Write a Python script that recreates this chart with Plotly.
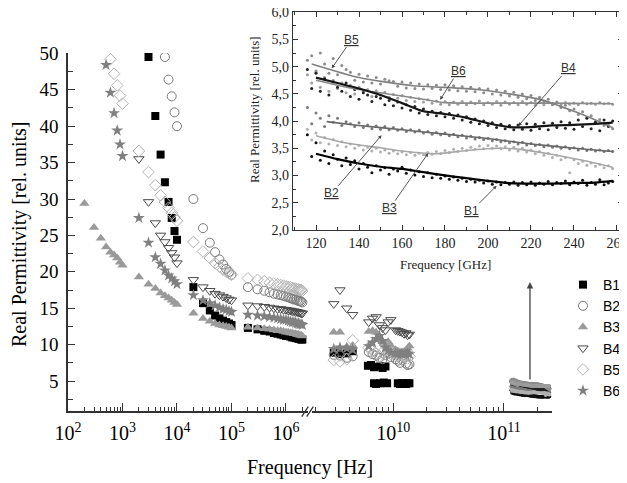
import plotly.graph_objects as go

W, H = 627, 483
OX, OY = 8, 8  # page body margin of the browser


def fx(px):
    return (px - OX) / W


def fy(py):
    return 1 - (py - OY) / H


# ------------------------------------------------------------------ data
SERIES = ["B1", "B2", "B3", "B4", "B5", "B6"]

# common frequency grids (Hz)
F_MID = [2e4, 3e4, 4e4, 5e4, 6e4, 7e4, 8e4, 9e4, 1e5]
F_HI = [2e5, 3e5, 4e5, 5e5, 6e5, 7e5, 8e5, 9e5, 1e6, 1.1e6, 1.2e6, 1.3e6,
        1.4e6, 1.5e6, 1.6e6, 1.7e6, 1.8e6, 1.9e6, 2e6]

# low-frequency parts
b1_low_f = [3e3, 4e3, 5e3, 6e3, 7e3, 8e3, 9e3, 1e4]
b1_low = [49.5, 41.4, 36.1, 32.3, 29.6, 27.4, 25.6, 24.4]
b2_low_f = [6e3, 7e3, 8e3, 9e3, 1e4]
b2_low = [49.5, 46.4, 44.1, 41.9, 40.0]
b3_low_f = [200, 300, 400, 500, 600, 700, 800, 900, 1000,
            2e3, 3e3, 4e3, 5e3, 6e3, 7e3, 8e3, 9e3, 1e4]
b3_low = [29.4, 26.1, 24.6, 23.4, 22.7, 22.3, 21.9, 21.3, 20.9,
          19.3, 18.3, 17.7, 17.1, 16.7, 16.4, 16.1, 15.8, 15.5]
b4_low_f = [2e3, 3e3, 4e3, 5e3, 6e3, 7e3, 8e3, 9e3, 1e4]
b4_low = [35.5, 29.6, 26.7, 25.0, 24.1, 23.3, 22.6, 22.0, 21.2]
b5_low_f = [600, 700, 800, 900, 1000, 2e3, 3e3, 4e3, 5e3, 6e3, 7e3, 8e3, 9e3, 1e4]
b5_low = [49.2, 47.2, 45.6, 44.2, 43.1, 36.6, 33.7, 31.9, 30.5, 29.6, 28.8, 28.1, 27.5, 27.0]
b6_low_f = [500, 600, 700, 800, 900, 1000, 2e3, 3e3, 4e3, 5e3, 6e3, 7e3, 8e3, 9e3, 1e4]
b6_low = [48.4, 44.6, 41.8, 39.4, 37.5, 35.9, 27.4, 24.0, 22.0, 21.1, 20.2, 19.5, 19.1, 18.7, 18.3]

# 20 kHz - 100 kHz
b1_mid = [17.9, 15.7, 14.7, 14.0, 13.6, 13.3, 13.1, 12.9, 12.7]
b2_mid = [30.0, 26.0, 24.0, 22.7, 21.7, 21.0, 20.4, 20.0, 19.6]
b3_mid = [14.3, 13.6, 13.2, 12.9, 12.7, 12.6, 12.5, 12.4, 12.3]
b4_mid = [18.9, 17.9, 17.4, 17.0, 16.8, 16.6, 16.4, 16.2, 16.1]
b5_mid = [24.1, 22.8, 21.9, 21.2, 20.7, 20.3, 20.0, 19.8, 19.6]
b6_mid = [16.8, 16.1, 15.7, 15.4, 15.1, 14.9, 14.8, 14.6, 14.5]

# 200 kHz - 2 MHz
b1_hi = [12.3, 12.1, 11.9, 11.8, 11.6, 11.5, 11.4, 11.3, 11.2, 11.2, 11.1, 11.0, 11.0, 10.9, 10.9, 10.8, 10.8, 10.7, 10.7]
b2_hi = [17.9, 17.6, 17.4, 17.2, 17.0, 16.9, 16.8, 16.7, 16.6, 16.5, 16.4, 16.3, 16.2, 16.2, 16.1, 16.0, 16.0, 15.9, 15.8]
b3_hi = [12.4, 12.3, 12.2, 12.1, 12.0, 11.9, 11.9, 11.8, 11.7, 11.7, 11.6, 11.6, 11.5, 11.5, 11.4, 11.4, 11.3, 11.3, 11.2]
b4_hi = [15.4, 15.3, 15.2, 15.1, 15.0, 14.9, 14.9, 14.8, 14.8, 14.7, 14.7, 14.6, 14.6, 14.5, 14.5, 14.4, 14.4, 14.3, 14.3]
b5_hi = [19.1, 18.9, 18.7, 18.5, 18.4, 18.3, 18.2, 18.1, 18.0, 17.9, 17.9, 17.8, 17.7, 17.7, 17.6, 17.6, 17.5, 17.5, 17.4]
b6_hi = [14.1, 14.0, 13.9, 13.8, 13.7, 13.6, 13.5, 13.4, 13.4, 13.3, 13.2, 13.1, 13.1, 13.0, 12.9, 12.9, 12.8, 12.8, 12.7]

# GHz region (Hz)
G1 = [2.9e9, 3.3e9, 3.8e9, 4.3e9]
G2 = [6.0e9, 6.5e9, 7.0e9, 7.5e9, 8.0e9, 8.5e9, 9.0e9, 9.5e9,
      10.5e9, 11.0e9, 11.5e9, 12.0e9, 12.5e9, 13.0e9, 13.5e9, 14.0e9]
b1_ghz_f = [2.9e9, 3.3e9, 3.8e9, 4.3e9, 5.9e9, 6.3e9, 6.7e9, 7.5e9, 8.0e9, 8.5e9,
            6.7e9, 7.0e9, 7.6e9, 8.2e9, 8.8e9, 11.0e9, 11.5e9, 12.0e9, 12.5e9, 13.0e9, 13.5e9, 14.0e9]
b1_ghz = [8.9, 8.7, 8.8, 9.1, 7.1, 7.2, 6.9, 7.0, 6.8, 7.0,
          4.7, 4.6, 4.7, 4.8, 4.7, 4.7, 4.6, 4.7, 4.7, 4.6, 4.7, 4.7]
b2_ghz = [8.6, 8.5, 8.2, 8.4, 9.0, 8.7, 8.5, 8.2, 8.0, 8.6, 8.8, 8.3, 8.0, 7.8, 7.5, 7.9, 8.2, 7.4, 7.2, 7.3]
b3_ghz = [11.7, 11.7, 9.7, 9.9, 11.8, 11.9, 11.7, 11.0, 10.4, 10.0, 10.4, 9.9, 9.3, 9.1, 8.9, 9.0, 8.9, 9.2, 9.5, 9.8]
b4_ghz = [15.6, 17.5, 15.0, 14.1, 13.1, 13.6, 13.8, 12.7, 12.3, 12.0, 13.1, 13.4, 12.0, 11.9, 11.8, 11.7, 11.5, 11.6, 11.3, 11.4]
b5_ghz = [7.9, 7.7, 8.0, 10.6, 9.6, 9.2, 8.8, 8.4, 9.0, 9.8, 9.1, 8.7, 8.4, 8.6, 8.2, 8.0, 8.5, 8.3, 8.1, 8.4]
b6_ghz = [9.4, 9.6, 9.5, 9.3, 9.8, 10.3, 10.8, 11.2, 10.5, 9.6, 9.2, 8.9, 8.8, 8.7, 8.8, 8.7, 8.8, 8.7, 8.8, 8.7]

# inset: 116 - 258 GHz measured points
GHZ_X = [116, 118, 120, 122, 124, 126, 128, 130, 132, 134,
         136, 138, 140, 142, 144, 146, 148, 150, 152, 154,
         156, 158, 160, 162, 164, 166, 168, 170, 172, 174,
         176, 178, 180, 182, 184, 186, 188, 190, 192, 194,
         196, 198, 200, 202, 204, 206, 208, 210, 212, 214,
         216, 218, 220, 222, 224, 226, 228, 230, 232, 234,
         236, 238, 240, 242, 244, 246, 248, 250, 252, 254,
         256, 258]
b1_dots = [3.75, 3.35, 3.60, 3.28, 3.45, 3.22, 3.38, 3.30, 3.18, 3.32,
           3.20, 3.27, 3.12, 3.22, 3.15, 3.05, 3.18, 3.10, 3.14, 3.02,
           3.12, 3.08, 3.15, 3.04, 3.10, 3.01, 3.07, 2.98, 3.05, 2.96,
           3.02, 2.95, 2.99, 2.93, 2.97, 2.91, 2.95, 2.89, 2.93, 2.88,
           2.91, 2.86, 2.90, 2.84, 2.88, 2.83, 2.87, 2.84, 2.88, 2.82,
           2.87, 2.83, 2.88, 2.82, 2.86, 2.84, 2.89, 2.83, 2.87, 2.85,
           2.90, 2.83, 2.88, 2.85, 2.91, 2.82, 2.87, 2.84, 2.92, 2.83,
           2.86, 2.89]
b2_dots = [4.25, 3.95, 4.15, 4.05, 3.90, 4.10, 3.98, 4.05, 3.92, 3.99,
           3.95, 3.90, 3.97, 3.88, 3.93, 3.86, 3.91, 3.85, 3.90, 3.84,
           3.88, 3.83, 3.86, 3.81, 3.84, 3.80, 3.83, 3.78, 3.81, 3.76,
           3.79, 3.75, 3.78, 3.73, 3.76, 3.71, 3.74, 3.69, 3.72, 3.67,
           3.70, 3.66, 3.68, 3.64, 3.66, 3.62, 3.64, 3.60, 3.62, 3.58,
           3.61, 3.56, 3.59, 3.55, 3.57, 3.53, 3.56, 3.52, 3.54, 3.50,
           3.53, 3.49, 3.51, 3.47, 3.50, 3.46, 3.48, 3.45, 3.47, 3.44,
           3.46, 3.44]
b3_dots = [3.85, 3.65, 3.78, 3.60, 3.70, 3.58, 3.66, 3.55, 3.62, 3.53,
           3.58, 3.50, 3.55, 3.47, 3.52, 3.45, 3.50, 3.43, 3.47, 3.41,
           3.45, 3.40, 3.43, 3.38, 3.42, 3.37, 3.41, 3.38, 3.42, 3.39,
           3.44, 3.40, 3.46, 3.42, 3.48, 3.44, 3.50, 3.46, 3.52, 3.48,
           3.54, 3.49, 3.55, 3.50, 3.54, 3.49, 3.53, 3.47, 3.52, 3.45,
           3.50, 3.43, 3.47, 3.40, 3.44, 3.37, 3.41, 3.33, 3.37, 3.29,
           3.33, 3.05, 3.29, 3.22, 3.26, 3.19, 3.23, 3.17, 3.20, 3.14,
           3.18, 3.13]
b4_dots = [4.95, 4.60, 4.88, 4.55, 4.78, 4.48, 4.72, 4.62, 4.55, 4.70,
           4.45, 4.58, 4.40, 4.52, 4.48, 4.36, 4.45, 4.42, 4.30, 4.38,
           4.28, 4.35, 4.24, 4.30, 4.20, 4.27, 4.15, 4.22, 4.12, 4.18,
           4.10, 4.16, 4.08, 4.14, 4.05, 4.11, 4.02, 4.08, 3.98, 4.04,
           3.95, 4.00, 3.92, 3.97, 3.88, 3.94, 3.86, 3.92, 3.84, 3.93,
           3.85, 3.95, 3.83, 3.94, 3.86, 3.97, 3.84, 3.96, 3.88, 3.99,
           3.87, 3.97, 3.85, 4.02, 3.90, 4.05, 3.86, 3.98, 3.82, 4.02,
           3.90, 4.00]
b5_dots = [5.12, 5.20, 4.92, 5.25, 5.05, 4.88, 5.15, 4.85, 5.02, 4.95,
           4.90, 4.75, 4.86, 4.72, 4.83, 4.70, 4.80, 4.68, 4.77, 4.74,
           4.73, 4.64, 4.72, 4.61, 4.70, 4.60, 4.68, 4.59, 4.67, 4.60,
           4.66, 4.58, 4.67, 4.57, 4.65, 4.56, 4.63, 4.55, 4.62, 4.54,
           4.60, 4.52, 4.59, 4.50, 4.57, 4.48, 4.55, 4.46, 4.53, 4.44,
           4.50, 4.41, 4.47, 4.38, 4.44, 4.35, 4.40, 4.30, 4.34, 4.25,
           4.29, 4.19, 4.22, 4.12, 4.17, 4.06, 4.10, 3.99, 4.03, 3.92,
           3.95, 3.86]
b6_dots = [4.85, 4.70, 4.90, 4.62, 4.80, 4.55, 4.75, 4.60, 4.70, 4.52,
           4.66, 4.50, 4.62, 4.55, 4.58, 4.45, 4.56, 4.48, 4.53, 4.44,
           4.49, 4.42, 4.47, 4.38, 4.44, 4.36, 4.41, 4.35, 4.39, 4.33,
           4.37, 4.31, 4.36, 4.30, 4.35, 4.31, 4.36, 4.30, 4.35, 4.32,
           4.37, 4.30, 4.34, 4.31, 4.36, 4.29, 4.35, 4.31, 4.34, 4.30,
           4.36, 4.31, 4.34, 4.29, 4.35, 4.30, 4.34, 4.32, 4.35, 4.30,
           4.34, 4.31, 4.33, 4.30, 4.34, 4.32, 4.33, 4.31, 4.34, 4.32,
           4.33, 4.31]

# inset fitted curves
b1_fit_x = [120, 130, 140, 150, 160, 170, 180, 190, 200, 210, 220, 230, 240, 250, 258]
b1_fit = [3.40, 3.30, 3.22, 3.16, 3.12, 3.06, 3.00, 2.95, 2.90, 2.86, 2.85, 2.85, 2.86, 2.87, 2.90]
b2_fit_x = [125, 140, 160, 180, 200, 220, 240, 258]
b2_fit = [3.99, 3.92, 3.84, 3.76, 3.68, 3.58, 3.50, 3.44]
b3_fit_x = [120, 130, 140, 150, 160, 176, 190, 205, 215, 225, 235, 245, 258]
b3_fit = [3.73, 3.63, 3.56, 3.51, 3.45, 3.40, 3.46, 3.50, 3.48, 3.42, 3.35, 3.27, 3.15]
b4_fit_x = [120, 130, 140, 150, 160, 170, 180, 190, 200, 210, 220, 230, 240, 250, 258]
b4_fit = [4.80, 4.70, 4.60, 4.48, 4.33, 4.18, 4.13, 4.06, 3.96, 3.89, 3.89, 3.92, 3.93, 3.95, 3.97]
b5_fit_x = [118, 140, 165, 180, 195, 210, 225, 240, 250, 258]
b5_fit = [5.05, 4.80, 4.65, 4.62, 4.58, 4.50, 4.39, 4.18, 4.02, 3.88]
b6_fit_x = [120, 130, 140, 150, 160, 170, 180, 200, 230, 258]
b6_fit = [4.75, 4.66, 4.58, 4.52, 4.46, 4.40, 4.34, 4.33, 4.33, 4.32]

# inset labels: (label, text x, text y, head x, head y)
INSET_LABELS = [
    ("B5", 136.6, 5.50, 127.3, 4.97),
    ("B6", 186.2, 4.92, 177.7, 4.39),
    ("B4", 237.3, 4.97, 214.1, 3.91),
    ("B2", 127.3, 2.67, 150.5, 3.74),
    ("B3", 154.4, 2.40, 172.2, 3.41),
    ("B1", 192.4, 2.35, 204.0, 2.81),
]

# ------------------------------------------------------------------ styles
STYLE = {
    "B1": dict(symbol="square", color="#000000", size=8, lw=0),
    "B2": dict(symbol="circle-open", color="#7a7a7a", size=9, lw=1),
    "B3": dict(symbol="triangle-up", color="#9a9a9a", size=9, lw=0),
    "B4": dict(symbol="triangle-down-open", color="#4a4a4a", size=9, lw=1),
    "B5": dict(symbol="diamond-open", color="#b3b3b3", size=9, lw=1),
    "B6": dict(symbol="star", color="#808080", size=9, lw=0),
}
DOT_COLOR = {"B1": "#111111", "B2": "#7a7a7a", "B3": "#b0b0b0",
             "B4": "#222222", "B5": "#8c8c8c", "B6": "#9c9c9c"}
FIT_STYLE = {"B1": ("#000000", 2.2), "B2": ("#666666", 1.6), "B3": ("#a8a8a8", 1.6),
             "B4": ("#151515", 2.2), "B5": ("#808080", 1.6), "B6": ("#8a8a8a", 1.6)}

LOW = {"B1": (b1_low_f, b1_low), "B2": (b2_low_f, b2_low), "B3": (b3_low_f, b3_low),
       "B4": (b4_low_f, b4_low), "B5": (b5_low_f, b5_low), "B6": (b6_low_f, b6_low)}
MID = {"B1": b1_mid, "B2": b2_mid, "B3": b3_mid, "B4": b4_mid, "B5": b5_mid, "B6": b6_mid}
HI = {"B1": b1_hi, "B2": b2_hi, "B3": b3_hi, "B4": b4_hi, "B5": b5_hi, "B6": b6_hi}
GHZ = {"B1": (b1_ghz_f, b1_ghz), "B2": (G1 + G2, b2_ghz), "B3": (G1 + G2, b3_ghz),
       "B4": (G1 + G2, b4_ghz), "B5": (G1 + G2, b5_ghz), "B6": (G1 + G2, b6_ghz)}
DOTS = {"B1": b1_dots, "B2": b2_dots, "B3": b3_dots, "B4": b4_dots, "B5": b5_dots, "B6": b6_dots}
FITS = {"B1": (b1_fit_x, b1_fit), "B2": (b2_fit_x, b2_fit), "B3": (b3_fit_x, b3_fit),
        "B4": (b4_fit_x, b4_fit), "B5": (b5_fit_x, b5_fit), "B6": (b6_fit_x, b6_fit)}


def mk(s, size=None):
    st = STYLE[s]
    return dict(symbol=st["symbol"], color=st["color"], size=size or st["size"],
                line=dict(color=st["color"], width=st["lw"]))


fig = go.Figure()

# main plot, low-frequency segment
for s in SERIES:
    lf, lv = LOW[s]
    fig.add_trace(go.Scatter(x=lf + F_MID + F_HI, y=lv + MID[s] + HI[s], mode="markers",
                             name=s, marker=mk(s), xaxis="x", yaxis="y", showlegend=True))

# main plot, GHz segment
for s in SERIES:
    gf, gv = GHZ[s]
    fig.add_trace(go.Scatter(x=gf, y=gv, mode="markers", marker=mk(s), xaxis="x2", yaxis="y",
                             showlegend=False, name=s))
for s in SERIES:
    fig.add_trace(go.Scatter(x=[g * 1e9 for g in GHZ_X], y=DOTS[s], mode="markers",
                             marker=dict(symbol="circle", size=3.5, color=DOT_COLOR[s]),
                             xaxis="x2", yaxis="y", showlegend=False, name=s))

# inset
for s in ["B3", "B2", "B6", "B5", "B1", "B4"]:
    fig.add_trace(go.Scatter(x=GHZ_X, y=DOTS[s], mode="markers",
                             marker=dict(symbol="circle", size=3.0, color=DOT_COLOR[s]),
                             xaxis="x3", yaxis="y3", showlegend=False, name=s))
for s in ["B3", "B2", "B6", "B5", "B1", "B4"]:
    fxs, fys = FITS[s]
    c, w = FIT_STYLE[s]
    fig.add_trace(go.Scatter(x=fxs, y=fys, mode="lines", line=dict(color=c, width=w, shape="spline", smoothing=0.6),
                             xaxis="x3", yaxis="y3", showlegend=False, name=s))

AX = "#333333"
SERIF = "Liberation Serif"

log_common = dict(type="log", anchor="y", showline=True, linecolor=AX, linewidth=1.5,
                  ticks="inside", ticklen=8, tickwidth=1.2, tickcolor=AX, dtick=1,
                  exponentformat="power", tickfont=dict(family=SERIF, size=16, color="black"),
                  showgrid=False, zeroline=False, ticklabelstandoff=4, automargin=False,
                  ticklabeloverflow="allow",
                  minor=dict(ticks="inside", ticklen=4, tickwidth=1, tickcolor=AX, dtick="D1", showgrid=False))


def ptext(text, px, py, size, angle=0, color="black"):
    return dict(text=text, x=fx(px), y=fy(py), xref="paper", yref="paper", xanchor="center", yanchor="middle",
                showarrow=False, textangle=angle, font=dict(family=SERIF, size=size, color=color))


annotations = [
    ptext("Frequency [Hz]", 310, 467, 20),
    ptext("Real Permittivity [rel. units]", 20, 234, 20, angle=-90),
    ptext("Frequency [GHz]", 445, 264, 13, color="#222"),
    ptext("Real Permittivity [rel. units]", 255, 110, 13, angle=-90, color="#222"),
    dict(text=" ", x=11.235, y=18.6, ax=11.235, ay=5.0, xref="x2", yref="y", axref="x2", ayref="y",
         showarrow=True, arrowhead=2, arrowsize=1, arrowwidth=1.3, arrowcolor="#444",
         font=dict(size=2), borderpad=0),
]
for lab, tx, ty, hx, hy in INSET_LABELS:
    annotations.append(dict(text="<u>" + lab + "</u>", x=hx, y=hy, ax=tx, ay=ty,
                            xref="x3", yref="y3", axref="x3", ayref="y3",
                            showarrow=True, arrowhead=2, arrowsize=0.8, arrowwidth=0.9, arrowcolor="#444",
                            borderpad=0, font=dict(family="Liberation Sans", size=12, color="#333")))

shapes = [
    dict(type="line", xref="paper", yref="paper", x0=fx(301.7), y0=fy(416.7), x1=fx(308.3), y1=fy(406.7),
         line=dict(color=AX, width=1.3)),
    dict(type="line", xref="paper", yref="paper", x0=fx(306.7), y0=fy(416.7), x1=fx(313.3), y1=fy(406.7),
         line=dict(color=AX, width=1.3)),
]

fig.update_layout(
    template="none",
    width=W, height=H, margin=dict(l=0, r=0, t=0, b=0, autoexpand=False),
    paper_bgcolor="white", plot_bgcolor="rgba(0,0,0,0)",
    separators=",.",
    font=dict(family=SERIF, color="black"),
    showlegend=True,
    legend=dict(x=fx(563), y=fy(269), xanchor="left", yanchor="top", xref="container", yref="container",
                font=dict(family="Liberation Sans", size=14, color="black"),
                bgcolor="rgba(0,0,0,0)", tracegroupgap=0, itemwidth=30, borderwidth=0),
    xaxis=dict(domain=[fx(68), fx(308)], range=[2, 6.404], **log_common),
    xaxis2=dict(domain=[fx(312), fx(552)], range=[9.266, 11.434], **log_common),
    yaxis=dict(domain=[fy(411), fy(53)], range=[0.89, 50.05], anchor="x", automargin=False,
               showline=True, linecolor=AX, linewidth=1.5, ticks="inside", ticklen=7, tickwidth=1.2,
               tickcolor=AX, dtick=5, tick0=0, showgrid=False, zeroline=False, ticklabeloverflow="allow",
               tickfont=dict(family=SERIF, size=19, color="black"), ticklabelstandoff=4,
               minor=dict(ticks="inside", ticklen=5, tickwidth=1, tickcolor=AX, dtick=2.5, showgrid=False)),
    xaxis3=dict(domain=[fx(293), fx(623)], range=[109.3, 262.8], anchor="y3", automargin=False,
                showline=True, mirror="allticks", linecolor=AX, linewidth=1.2, ticks="inside", ticklen=5,
                tickwidth=1, tickcolor=AX, dtick=20, tick0=0, showgrid=False, zeroline=False,
                ticklabeloverflow="allow",
                tickfont=dict(family=SERIF, size=14, color="#222"),
                minor=dict(ticks="inside", ticklen=3, tickcolor=AX, dtick=10, showgrid=False)),
    yaxis3=dict(domain=[fy(230), fy(12)], range=[1.997, 6.006], anchor="x3", automargin=False,
                showline=True, mirror="allticks", linecolor=AX, linewidth=1.2, ticks="inside", ticklen=5,
                tickwidth=1, tickcolor=AX, dtick=0.5, tick0=0, tickformat=".1f", showgrid=False, zeroline=False,
                ticklabeloverflow="allow",
                tickfont=dict(family=SERIF, size=14, color="#222"),
                minor=dict(ticks="inside", ticklen=3, tickcolor=AX, dtick=0.25, showgrid=False)),
    annotations=annotations,
    shapes=shapes,
)

fig.write_html("out.html")
